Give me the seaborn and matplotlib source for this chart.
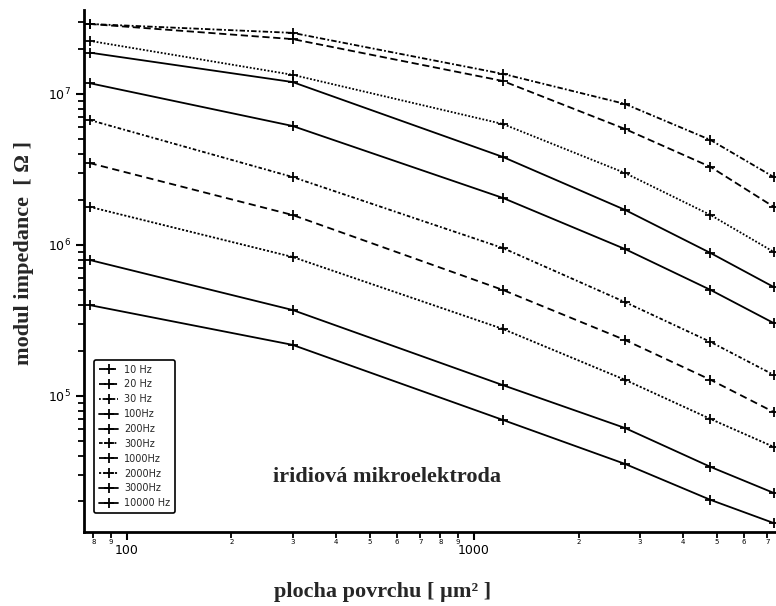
import math
import matplotlib
matplotlib.use("Agg")
import matplotlib.pyplot as plt
import matplotlib.ticker as mticker
import pandas as pd
import seaborn as sns

# plocha povrchu [um^2]
area = [78, 300, 1210, 2720, 4800, 7300]

freqs = ["10 Hz", "20 Hz", "30 Hz", "100Hz", "200Hz", "300Hz",
         "1000Hz", "2000Hz", "3000Hz", "10000 Hz"]

# modul impedance [Ohm], one list per frequency
z_10 = [2.91e7, 2.54e7, 1.36e7, 8.6e6, 4.96e6, 2.82e6]
z_20 = [2.91e7, 2.31e7, 1.22e7, 5.87e6, 3.29e6, 1.79e6]
z_30 = [2.25e7, 1.34e7, 6.33e6, 3.0e6, 1.58e6, 9.0e5]
z_100 = [1.88e7, 1.2e7, 3.83e6, 1.71e6, 8.85e5, 5.27e5]
z_200 = [1.18e7, 6.14e6, 2.05e6, 9.41e5, 5.04e5, 3.04e5]
z_300 = [6.73e6, 2.82e6, 9.55e5, 4.19e5, 2.28e5, 1.38e5]
z_1000 = [3.49e6, 1.58e6, 5.04e5, 2.35e5, 1.28e5, 7.83e4]
z_2000 = [1.79e6, 8.33e5, 2.78e5, 1.28e5, 7.04e4, 4.6e4]
z_3000 = [7.96e5, 3.71e5, 1.18e5, 6.14e4, 3.39e4, 2.28e4]
z_10000 = [4.0e5, 2.18e5, 6.94e4, 3.55e4, 2.05e4, 1.44e4]

series = [z_10, z_20, z_30, z_100, z_200, z_300, z_1000, z_2000, z_3000, z_10000]

styles = [(0, (3, 1.2, 1, 1.2)), (0, (4, 2)), (0, (1, 1)), "-", "-",
          (0, (2, 1.2, 1, 1.2)), (0, (4, 2.5)), (0, (1.2, 1)), "-", "-"]

rows = []
for f, vals in zip(freqs, series):
    for a, v in zip(area, vals):
        rows.append({"freq": f, "area": a, "z": v})
df = pd.DataFrame(rows)

sns.set_theme(style="ticks")
plt.rcParams["font.family"] = ["DejaVu Sans"]

fig = plt.figure(figsize=(7.76, 6.06), dpi=100)
ax = fig.add_axes([84 / 776, 1 - 532 / 606, 692 / 776, 522 / 606])

for f, ls in zip(freqs, styles):
    sub = df[df["freq"] == f]
    sns.lineplot(data=sub, x="area", y="z", ax=ax, color="black", linewidth=1.3,
                 linestyle=ls, marker="+", markersize=7.5, markeredgewidth=1.3,
                 markeredgecolor="black", legend=False)

ax.set_xscale("log")
ax.set_yscale("log")
ax.set_xlim(75.2, 7413)
ax.set_ylim(1.256e4, 3.6e7)

ax.spines["top"].set_visible(False)
ax.spines["right"].set_visible(False)
for s in ["left", "bottom"]:
    ax.spines[s].set_linewidth(2)
    ax.spines[s].set_color("black")


def minor_digit(v, pos):
    return str(int(round(v / 10 ** math.floor(math.log10(v) + 1e-9))))


ax.xaxis.set_major_locator(mticker.LogLocator(base=10, numticks=10))
ax.xaxis.set_minor_locator(mticker.LogLocator(base=10, subs=range(2, 10), numticks=20))
ax.xaxis.set_major_formatter(mticker.FuncFormatter(lambda v, p: "%d" % round(v)))
ax.xaxis.set_minor_formatter(mticker.FuncFormatter(minor_digit))
ax.tick_params(axis="x", which="major", length=6, width=1.5, labelsize=9, pad=3, colors="black")
ax.tick_params(axis="x", which="minor", length=4, width=1.3, labelsize=5, pad=1, colors="black")
ax.tick_params(axis="y", which="major", length=6, width=1.5, labelsize=9, colors="black")
ax.tick_params(axis="y", which="minor", length=4, width=1.3, colors="black")
ax.yaxis.set_minor_formatter(mticker.NullFormatter())

ax.set_xlabel("plocha povrchu [ µm² ]", fontsize=16, fontweight="bold",
              family=["Liberation Serif", "DejaVu Serif"])
ax.set_ylabel("modul impedance  [ Ω ]", fontsize=16, fontweight="bold",
              family=["Liberation Serif", "DejaVu Serif"])
ax.xaxis.set_label_coords(0.432, -0.095)
ax.yaxis.set_label_coords(-0.072, 0.534)

ax.text(0.438, 0.105, "iridiová mikroelektroda", transform=ax.transAxes,
        ha="center", va="center", fontsize=16, fontweight="bold",
        family="Liberation Serif")

leg = ax.legend(handles=ax.get_lines(), labels=freqs, loc="lower left",
                bbox_to_anchor=(0.0145, 0.036), borderaxespad=0,
                fontsize=7, handlelength=2.0, handletextpad=0.6, labelspacing=0.5,
                frameon=True, fancybox=True, edgecolor="black", borderpad=0.5)
leg.get_frame().set_linewidth(1.2)
leg.get_frame().set_alpha(1)

fig.savefig("out.png", dpi=100, facecolor="white")
